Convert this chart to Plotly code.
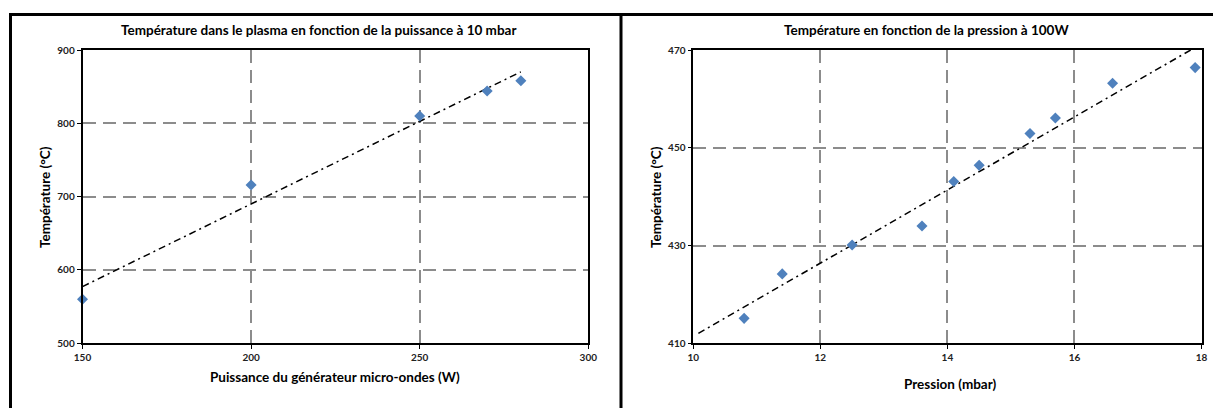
import numpy as np
import plotly.graph_objects as go

# ---- data ----
puissance_W = [150, 200, 250, 270, 280]
temp_puissance_C = [560, 716, 810, 844, 858]

pression_mbar = [10.8, 11.4, 12.5, 13.6, 14.1, 14.5, 15.3, 15.7, 16.6, 17.9]
temp_pression_C = [415.1, 424.2, 430.1, 434.0, 443.1, 446.4, 452.9, 456.1, 463.2, 466.4]

title_left = "Température dans le plasma en fonction de la puissance à 10 mbar"
title_right = "Température en fonction de la pression à 100W"
xlabel_left = "Puissance du générateur micro-ondes (W)"
xlabel_right = "Pression (mbar)"
ylabel = "Température (°C)"

# page body has an 8px margin: figure fills the rest of the 1221x408 window
OFF = 8
W, H = 1221 - OFF, 408 - OFF
FONT = "Lato"
MARK = "#4F81BD"
GRID = "#8C8C8C"

# linear trendlines
p1 = np.polyfit(puissance_W, temp_puissance_C, 1)
t1x = np.array([min(puissance_W), max(puissance_W)])
t1y = np.polyval(p1, t1x)
p2 = np.polyfit(pression_mbar, temp_pression_C, 1)
t2x = np.array([10.08, 18.0])
t2y = np.polyval(p2, t2x)

fig = go.Figure()
fig.add_trace(go.Scatter(x=t1x, y=t1y, mode="lines", xaxis="x", yaxis="y",
                         line=dict(color="black", width=1.5, dash="7px,4px,2px,4px"),
                         hoverinfo="skip"))
fig.add_trace(go.Scatter(x=puissance_W, y=temp_puissance_C, mode="markers", xaxis="x", yaxis="y",
                         marker=dict(symbol="diamond", size=8.5, color=MARK), cliponaxis=False))
fig.add_trace(go.Scatter(x=t2x, y=t2y, mode="lines", xaxis="x2", yaxis="y2",
                         line=dict(color="black", width=1.5, dash="7px,4px,2px,4px"),
                         hoverinfo="skip"))
fig.add_trace(go.Scatter(x=pression_mbar, y=temp_pression_C, mode="markers", xaxis="x2", yaxis="y2",
                         marker=dict(symbol="diamond", size=8.5, color=MARK), cliponaxis=False))

def px_x(p):
    return (p - OFF) / W

def px_y(p):
    return 1 - (p - OFF) / H

ydom = [px_y(343.3), px_y(50)]
axis_common = dict(showline=True, linecolor="black", linewidth=1.6, mirror=True,
                   ticks="outside", ticklen=4, tickcolor="black", tickwidth=1.2,
                   showgrid=True, gridcolor=GRID, gridwidth=2, griddash="13px,7px",
                   zeroline=False, automargin=False,
                   tickfont=dict(family=FONT, size=10, color="#222222", weight="bold"))

fig.update_layout(
    width=W, height=H, margin=dict(l=0, r=0, t=0, b=0, pad=0, autoexpand=False),
    autosize=False,
    paper_bgcolor="white", plot_bgcolor="white", showlegend=False,
    xaxis=dict(domain=[px_x(82.5), px_x(588.3)], range=[150, 300], dtick=50, tick0=150,
               anchor="y", **axis_common),
    yaxis=dict(domain=ydom, range=[500, 900], dtick=100, tick0=500, anchor="x", **axis_common),
    xaxis2=dict(domain=[px_x(693.3), px_x(1201.5)], range=[10, 18], dtick=2, tick0=10,
                anchor="y2", **axis_common),
    yaxis2=dict(domain=ydom, range=[410, 470], dtick=20, tick0=410, anchor="x2", **axis_common),
)

ann = []
def add_text(text, x, y, size, angle=0):
    ann.append(dict(text=text, x=px_x(x), y=px_y(y), xref="paper", yref="paper",
                    xanchor="center", yanchor="middle", showarrow=False, textangle=angle,
                    font=dict(family=FONT, size=size, color="black", weight="bold")))

add_text(title_left, 318, 30, 13.5)
add_text(title_right, 926, 30, 13.5)
add_text(xlabel_left, 335, 377, 13.5)
add_text(xlabel_right, 950, 384, 13.5)
add_text(ylabel, 45, 197, 13.5, -90)
add_text(ylabel, 656, 197, 13.5, -90)
fig.update_layout(annotations=ann)

# black frame
frame = dict(type="line", xref="paper", yref="paper", line=dict(color="black", width=3))
fig.update_layout(shapes=[
    dict(frame, x0=px_x(9), x1=1.0, y0=px_y(14.5), y1=px_y(14.5)),
    dict(frame, x0=px_x(10.5), x1=px_x(10.5), y0=0, y1=px_y(13)),
    dict(frame, x0=px_x(621), x1=px_x(621), y0=0, y1=px_y(13)),
])

fig.write_html("out.html")
